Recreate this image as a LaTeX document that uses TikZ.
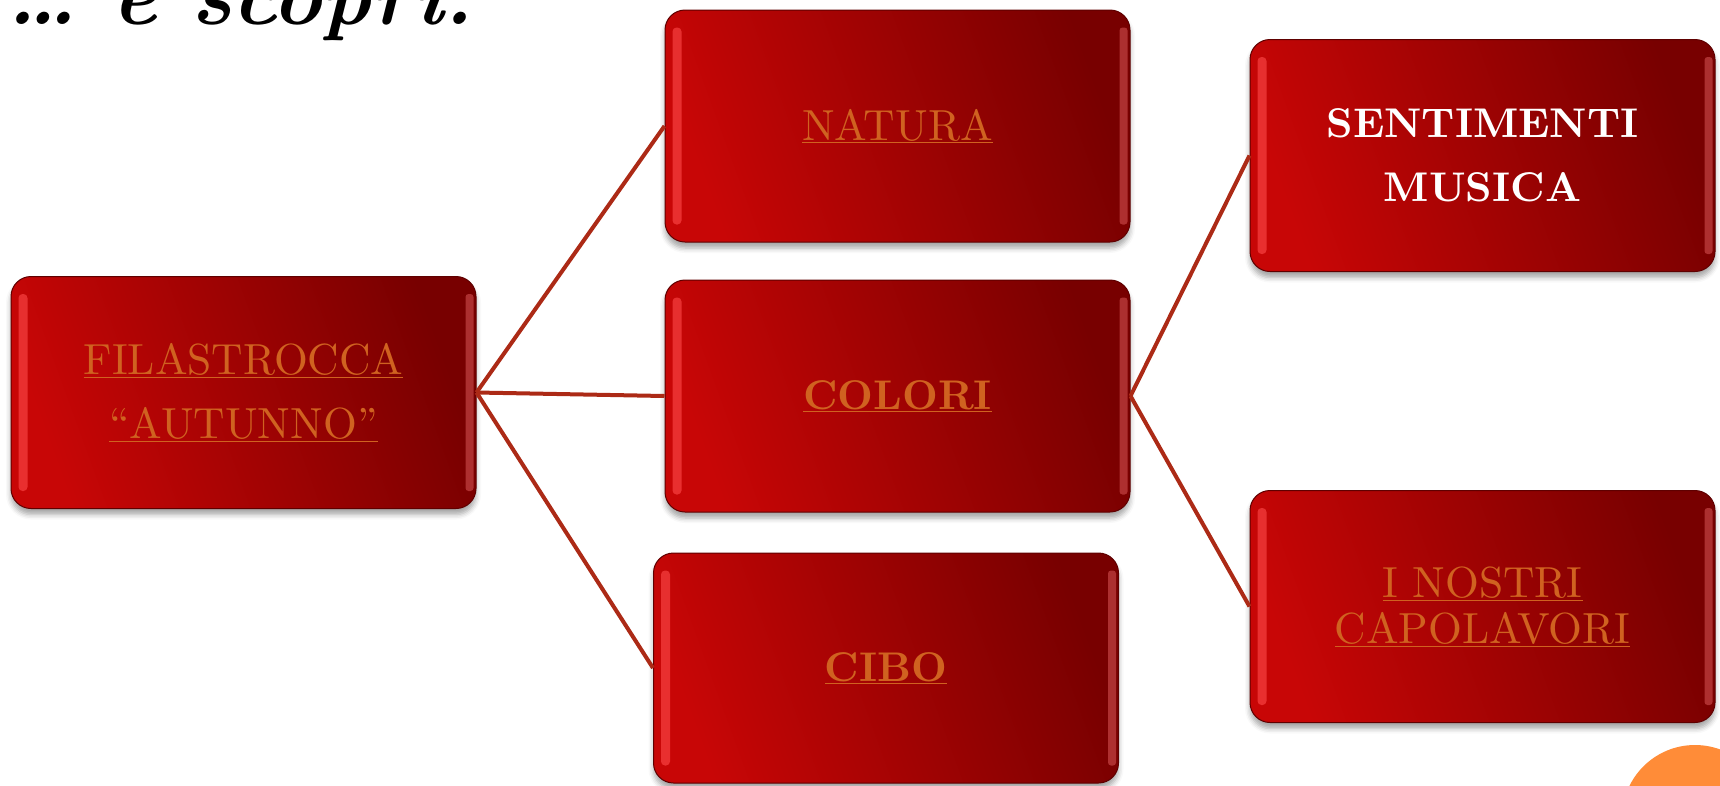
\documentclass[tikz,border=0pt]{standalone}
\usepackage{fontspec}
\setmainfont{lmroman10-regular.otf}[BoldFont=lmroman10-bold.otf, ItalicFont=lmroman10-italic.otf, BoldItalicFont=lmroman10-bolditalic.otf]
\usetikzlibrary{shadows.blur}
\definecolor{boxdark}{RGB}{120,0,0}
\definecolor{boxbright}{RGB}{200,6,6}
\definecolor{rim}{RGB}{95,0,0}
\definecolor{txtor}{RGB}{208,98,32}
\definecolor{linkred}{RGB}{172,42,22}
\definecolor{hlL}{RGB}{255,75,75}
\definecolor{hlR}{RGB}{225,95,95}
\definecolor{dotor}{RGB}{255,140,56}
\begin{document}
\begin{tikzpicture}[x=1pt,y=-1pt,
  box/.style={rectangle, rounded corners=20pt, minimum width=465pt, minimum height=232pt,
    inner sep=0pt, draw=rim, line width=1pt, top color=boxdark, bottom color=boxbright,
    shading angle=-70,
    blur shadow={shadow xshift=0pt, shadow yshift=-6pt, shadow blur radius=5pt, shadow opacity=35}},
  lbl/.style={text=txtor, font=\fontsize{43.5}{64}\selectfont, align=center},
  blbl/.style={font=\fontsize{41.5}{64}\selectfont\bfseries},
  link/.style={draw=linkred, line width=4pt},
]
\useasboundingbox (0,0) rectangle (1720,785);
\clip (0,0) rectangle (1720,785);

\node[anchor=base west, font=\fontsize{84}{84}\selectfont\bfseries\itshape] (title) at (3,24) {\ldots\ e scopri.};

\node[box, lbl] (fil) at (243.5,392.5) {\underline{FILASTROCCA}\\\underline{``AUTUNNO''}};
\node[box, lbl] (nat) at (897.5,126) {\underline{NATURA}};
\node[box, lbl, blbl] (col) at (897.5,396) {\underline{COLORI}};
\node[box, lbl, blbl, minimum height=230pt] (cib) at (886,668) {\underline{CIBO}};
\node[box, lbl, blbl, text=white] (sen) at (1482.5,155.5) {SENTIMENTI\\MUSICA};
\node[box, lbl, font=\fontsize{43.5}{46}\selectfont] (cap) at (1482.5,606.5) {\underline{I NOSTRI}\\\underline{CAPOLAVORI}};

\foreach \n in {fil,nat,col,cib,sen,cap}{
  \fill[hlL, rounded corners=4pt, opacity=.6] ([xshift=8pt,yshift=-18pt]\n.north west) rectangle ([xshift=17pt,yshift=18pt]\n.south west);
  \fill[hlR, rounded corners=3pt, opacity=.5] ([xshift=-11pt,yshift=-18pt]\n.north east) rectangle ([xshift=-3pt,yshift=18pt]\n.south east);
}

\draw[link] (fil.east) -- (nat.west);
\draw[link] (fil.east) -- (col.west);
\draw[link] (fil.east) -- (cib.west);
\draw[link] (col.east) -- (sen.west);
\draw[link] (col.east) -- (cap.west);

\fill[dotor] (1695,818) circle (73pt);
\end{tikzpicture}
\end{document}
